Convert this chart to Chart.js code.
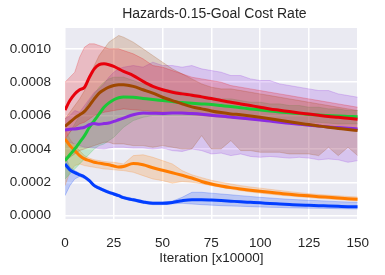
<!DOCTYPE html>
<html>
<head>
<meta charset="utf-8">
<script src="https://cdn.jsdelivr.net/npm/chart.js@4/dist/chart.umd.min.js"></script>
<style>
html,body{margin:0;padding:0;background:#fff;}
#wrap{width:385px;height:275px;}
</style>
</head>
<body>
<div id="wrap"><canvas id="c" width="385" height="275"></canvas></div>
<script>
// Iterations (x10000)
const iterations = [0,2.5,5,7.5,10,12.5,15,17.5,20,22.5,25,27.5,30,35,40,45,50,55,60,65,70,75,80,85,90,95,100,105,110,115,120,125,130,135,140,145,150];

const blueMean  = [0.00031,0.000275,0.000258,0.000245,0.000232,0.00021,0.00018,0.000165,0.000152,0.00014,0.00013,0.00012,0.000108,0.000095,0.000082,0.000074,0.000074,0.000079,0.00009,0.000096,0.000096,0.000094,0.000091,0.000087,0.000083,0.00008,0.000077,0.000073,0.00007,0.000067,0.000064,0.000062,0.00006,0.000058,0.000056,0.000054,0.000053];
const blueLow   = [0.00012,0.00018,0.00022,0.000235,0.000222,0.0002,0.000172,0.000157,0.000144,0.000132,0.000122,0.000112,0.0001,0.000087,0.000074,0.000066,0.000066,0.000071,0.000074,0.00007,0.000066,0.000063,0.00006,0.000058,0.000056,0.000054,0.000052,0.00005,0.000049,0.000047,0.000046,0.000045,0.000044,0.000043,0.000042,0.000041,0.00004];
const blueHigh  = [0.00036,0.00029,0.00027,0.000255,0.00024,0.000218,0.000188,0.000173,0.00016,0.000148,0.000138,0.000128,0.000116,0.000103,0.00009,0.000082,0.000082,0.000087,0.00011,0.00014,0.00014,0.000135,0.00013,0.000125,0.00012,0.000115,0.00011,0.000106,0.000102,0.000098,0.000095,0.000092,0.00009,0.000087,0.000084,0.000082,0.00008];

const orangeMean = [0.00046,0.00042,0.00039,0.00036,0.00034,0.00033,0.00032,0.000315,0.00031,0.000305,0.000298,0.000292,0.000295,0.000312,0.000305,0.000287,0.000272,0.000257,0.000242,0.000226,0.000205,0.00019,0.000178,0.000168,0.00016,0.000153,0.000147,0.00014,0.000134,0.000128,0.000123,0.000119,0.000114,0.00011,0.000106,0.000102,0.000098];
const orangeLow  = [0.00018,0.00026,0.0003,0.00031,0.0003,0.000295,0.00029,0.000285,0.00028,0.000278,0.000275,0.000272,0.00027,0.00026,0.00024,0.00022,0.00021,0.000195,0.000205,0.0002,0.000192,0.00018,0.00017,0.00016,0.00015,0.000142,0.000135,0.000129,0.000123,0.000118,0.000113,0.000108,0.000104,0.0001,0.000096,0.000092,0.000088];
const orangeHigh = [0.00052,0.00046,0.00042,0.00039,0.00036,0.000345,0.000335,0.00033,0.000325,0.000322,0.00032,0.000315,0.00031,0.00036,0.000365,0.00035,0.00033,0.00031,0.00027,0.000245,0.000228,0.000212,0.0002,0.00019,0.00018,0.000172,0.000165,0.000158,0.000151,0.000144,0.000138,0.000132,0.000127,0.000123,0.000119,0.000115,0.000112];

const greenMean = [0.00033,0.000365,0.0004,0.00044,0.00048,0.00053,0.00057,0.00061,0.00065,0.000676,0.000695,0.000707,0.000712,0.00071,0.000703,0.000696,0.00069,0.000684,0.000678,0.000674,0.00067,0.000666,0.00066,0.000654,0.000647,0.00064,0.000634,0.000628,0.000622,0.000617,0.000612,0.000607,0.000603,0.0006,0.000597,0.000595,0.000593];
const greenLow  = [0.00022,0.00025,0.00028,0.00031,0.00034,0.00037,0.0004,0.00042,0.00043,0.00045,0.00047,0.0005,0.00053,0.00057,0.00059,0.0006,0.0006,0.0006,0.0006,0.0006,0.0006,0.000595,0.00059,0.000585,0.00058,0.00058,0.00058,0.000575,0.00057,0.000565,0.00056,0.00056,0.00056,0.000555,0.00055,0.00055,0.00055];
const greenHigh = [0.00045,0.0005,0.00055,0.0006,0.00064,0.00069,0.00073,0.00077,0.0008,0.00082,0.00083,0.00083,0.00083,0.00081,0.00079,0.00077,0.00076,0.00075,0.00074,0.00073,0.00072,0.00071,0.0007,0.0007,0.00069,0.00068,0.00068,0.00067,0.00067,0.00066,0.00066,0.00065,0.00065,0.00064,0.00064,0.00063,0.00063];

const redMean = [0.000633,0.00069,0.00073,0.000755,0.00077,0.00083,0.00088,0.000905,0.00091,0.000905,0.000895,0.00088,0.000865,0.00084,0.000805,0.000775,0.000755,0.00074,0.00073,0.000722,0.000712,0.000702,0.00069,0.00068,0.00067,0.00066,0.00065,0.00064,0.000632,0.000624,0.000616,0.000609,0.000602,0.000595,0.00059,0.000584,0.000578];
const redLow  = [0.00046,0.0005,0.00053,0.00055,0.00056,0.00058,0.0006,0.00061,0.00062,0.000625,0.00063,0.000635,0.00064,0.000635,0.00063,0.000625,0.00062,0.000615,0.00061,0.000605,0.0006,0.000595,0.00059,0.000585,0.00058,0.000575,0.00057,0.000565,0.00056,0.000555,0.00055,0.000545,0.00054,0.000535,0.00053,0.000525,0.00052];
const redHigh = [0.0008,0.00083,0.00086,0.00095,0.00101,0.00103,0.00103,0.00102,0.00101,0.001,0.001,0.001,0.00099,0.00097,0.00094,0.0009,0.00089,0.00087,0.00085,0.00083,0.00082,0.00081,0.0008,0.00078,0.00077,0.00076,0.00075,0.00074,0.00073,0.00072,0.00071,0.0007,0.00069,0.00068,0.00067,0.00066,0.00065];

const purpleMean = [0.000513,0.000518,0.00052,0.000524,0.00053,0.000545,0.000552,0.000548,0.000552,0.000556,0.000565,0.000575,0.000585,0.000605,0.000615,0.000614,0.000613,0.000615,0.000615,0.000612,0.000608,0.000602,0.000597,0.000591,0.000585,0.00058,0.000574,0.000567,0.00056,0.000554,0.000548,0.000542,0.000537,0.000532,0.000528,0.000524,0.00052];
const purpleLow  = [0.00045,0.00044,0.00043,0.00042,0.00041,0.000408,0.000405,0.000402,0.0004,0.000405,0.00041,0.00041,0.00041,0.000405,0.000405,0.0004,0.000405,0.00039,0.000385,0.0004,0.00039,0.00037,0.000375,0.00036,0.00037,0.000355,0.00035,0.000355,0.00035,0.000345,0.00035,0.000345,0.000335,0.00034,0.000335,0.00032,0.00033];
const purpleHigh = [0.00058,0.0006,0.00063,0.00062,0.00066,0.0007,0.00074,0.00076,0.00079,0.00083,0.00086,0.00088,0.00089,0.0009,0.00089,0.00092,0.0009,0.0009,0.00089,0.0009,0.00088,0.00087,0.00086,0.00084,0.00084,0.00082,0.00081,0.00081,0.00079,0.00078,0.00077,0.00076,0.00075,0.00075,0.00073,0.00072,0.00071];

const brownMean = [0.000535,0.00056,0.000585,0.000605,0.000625,0.00066,0.0007,0.000735,0.000755,0.00077,0.00078,0.000785,0.000785,0.000775,0.000755,0.000735,0.00071,0.00069,0.00067,0.000652,0.00064,0.000628,0.000618,0.00061,0.000605,0.000598,0.00059,0.000581,0.000572,0.000563,0.000554,0.000546,0.000538,0.00053,0.000523,0.000516,0.00051];
const brownLow  = [0.00032,0.00035,0.00037,0.00039,0.0004,0.00041,0.00042,0.00043,0.00044,0.00044,0.00043,0.00043,0.00043,0.00042,0.00042,0.00041,0.00042,0.00041,0.0004,0.0004,0.00048,0.0004,0.0004,0.00045,0.00039,0.00039,0.00038,0.00038,0.00038,0.00037,0.00037,0.00037,0.00036,0.00041,0.00036,0.00041,0.00036];
const brownHigh = [0.00058,0.00062,0.00066,0.0007,0.00075,0.00082,0.0009,0.00096,0.001,0.00104,0.00106,0.00108,0.00107,0.00104,0.001,0.00096,0.00092,0.00088,0.00085,0.00082,0.00079,0.00077,0.00076,0.00076,0.00075,0.00074,0.00073,0.00072,0.00071,0.0007,0.00069,0.00068,0.00067,0.00066,0.00065,0.00064,0.00063];

const yTicks = [0.0000,0.0002,0.0004,0.0006,0.0008,0.0010];
const xTicks = [0,25,50,75,100,125,150];
const titleText = 'Hazards-0.15-Goal Cost Rate';
const xLabel = 'Iteration [x10000]';

const series = [
  {name:'blue',   rgb:[2,62,255],   mean:blueMean,   lo:blueLow,   hi:blueHigh,   order:5},
  {name:'orange', rgb:[255,124,0],  mean:orangeMean, lo:orangeLow, hi:orangeHigh, order:4},
  {name:'green',  rgb:[26,201,56],  mean:greenMean,  lo:greenLow,  hi:greenHigh,  order:3},
  {name:'purple', rgb:[139,43,226], mean:purpleMean, lo:purpleLow, hi:purpleHigh, order:2},
  {name:'brown',  rgb:[159,72,0],   mean:brownMean,  lo:brownLow,  hi:brownHigh,  order:1},
  {name:'red',    rgb:[232,0,11],   mean:redMean,    lo:redLow,    hi:redHigh,    order:0}
];
const pts = arr => arr.map((v,i)=>({x:iterations[i], y:v}));
const rgba = (c,a)=>`rgba(${c[0]},${c[1]},${c[2]},${a})`;

const datasets = [];
series.forEach(s=>{
  datasets.push({label:s.name+' low', data:pts(s.lo), borderColor:rgba(s.rgb,0.22), borderWidth:1, pointRadius:0, fill:false, tension:0, order:20+s.order});
  datasets.push({label:s.name+' high', data:pts(s.hi), borderColor:rgba(s.rgb,0.22), borderWidth:1, pointRadius:0, fill:'-1', backgroundColor:rgba(s.rgb,0.2), tension:0, order:20+s.order});
});
series.forEach(s=>{
  datasets.push({label:s.name, data:pts(s.mean), borderColor:rgba(s.rgb,1), borderWidth:3, pointRadius:0, fill:false, cubicInterpolationMode:'monotone', order:s.order});
});

const FONT = 'Liberation Sans, Arial, sans-serif';

const bgPlugin = {
  id:'bg',
  beforeDraw(chart){
    const {ctx, chartArea:a} = chart;
    ctx.save();
    ctx.fillStyle = '#EAEAF2';
    ctx.fillRect(a.left, a.top, a.right-a.left, a.bottom-a.top);
    ctx.restore();
  },
  afterDraw(chart){
    const {ctx, chartArea:a} = chart;
    ctx.save();
    ctx.fillStyle = '#262626';
    ctx.font = '14px ' + FONT;
    ctx.textAlign = 'center';
    ctx.textBaseline = 'middle';
    ctx.fillText(titleText, (a.left + a.right)/2 + 3, 14.5);
    ctx.restore();
  }
};

new Chart(document.getElementById('c'), {
  type:'line',
  data:{datasets},
  plugins:[bgPlugin],
  options:{
    responsive:false,
    animation:false,
    devicePixelRatio:1,
    layout:{padding:{left:0,right:21,top:28,bottom:0}},
    plugins:{
      legend:{display:false},
      tooltip:{enabled:false},
      title:{display:false}
    },
    scales:{
      x:{
        type:'linear', min:0, max:150,
        grid:{color:'#ffffff', lineWidth:1.5, drawTicks:false},
        border:{display:false},
        afterBuildTicks(s){ s.ticks = xTicks.map(v=>({value:v})); },
        afterFit(s){ s.height = 56; },
        ticks:{color:'#262626', font:{family:FONT, size:13.5}, padding:16, maxRotation:0, callback:v=>String(v)},
        title:{display:true, text:xLabel, color:'#262626', font:{family:FONT, size:13.5}, padding:{top:0,bottom:8.5}}
      },
      y:{
        type:'linear', min:-0.00002, max:0.001125,
        grid:{color:'#ffffff', lineWidth:1.5, drawTicks:false},
        border:{display:false},
        afterBuildTicks(s){ s.ticks = yTicks.map(v=>({value:v})); },
        afterFit(s){ s.width = 65; },
        ticks:{color:'#262626', font:{family:FONT, size:13.5}, padding:14, callback:v=>Number(v).toFixed(4)}
      }
    }
  }
});
</script>
</body>
</html>
